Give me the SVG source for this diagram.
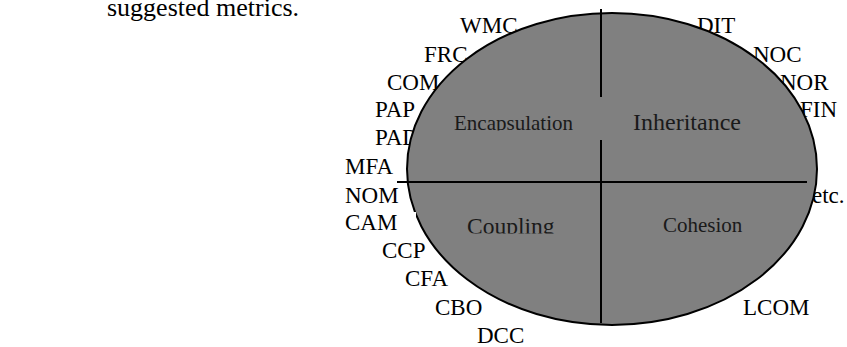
<svg xmlns="http://www.w3.org/2000/svg" width="847" height="347" viewBox="0 0 847 347">
<style>
text{font-family:"Liberation Serif","Times New Roman",serif;fill:#000}
.m{font-size:23px}
.q{fill:#1a1a1a}
.ln{stroke:#000;stroke-width:2;fill:none}
</style>
<defs>
<clipPath id="c1"><rect x="440" y="100" width="150" height="30.5"/></clipPath>
<clipPath id="c2"><rect x="450" y="210" width="120" height="23.5"/></clipPath>
</defs>
<rect width="847" height="347" fill="#fff"/>
<text x="107" y="16" style="font-size:26px">suggested metrics.</text>
<g id="labels" class="m">
<text x="460" y="33">WMC</text>
<text x="424" y="62">FRC</text>
<text x="387" y="90">COM</text>
<text x="375" y="117">PAP</text>
<text x="375" y="145">PAD</text>
<text x="345" y="174">MFA</text>
<text x="345" y="203">NOM</text>
<text x="382" y="258">CCP</text>
<text x="405" y="286">CFA</text>
<text x="435" y="315">CBO</text>
<text x="477" y="343">DCC</text>
<text x="697" y="33">DIT</text>
<text x="753" y="62">NOC</text>
<text x="780" y="90">NOR</text>
<text x="800" y="117">FIN</text>
<text x="812" y="203">etc.</text>
<text x="743" y="315">LCOM</text>
</g>
<g id="circle">
<ellipse cx="612" cy="169" rx="205" ry="156" fill="#808080" stroke="#000" stroke-width="2"/>
</g>
<g id="connectors">
<line class="ln" x1="601" y1="9" x2="601" y2="97"/>
<line class="ln" x1="601" y1="140" x2="601" y2="323"/>
<line class="ln" x1="397" y1="182" x2="807" y2="182"/>
</g>
<g id="cam">
<rect x="330" y="212" width="86" height="31" fill="#fff"/>
<text class="m" x="345" y="230">CAM</text>
</g>
<g id="encapsulation"><text x="454" y="130" clip-path="url(#c1)" class="q" style="font-size:21px">Encapsulation</text></g>
<g id="inheritance"><text x="633" y="130" class="q" style="font-size:24px">Inheritance</text></g>
<g id="coupling"><text x="467" y="233.5" clip-path="url(#c2)" class="q" style="font-size:23.5px">Coupling</text></g>
<g id="cohesion"><text x="663" y="232" class="q" style="font-size:21px">Cohesion</text></g>
</svg>
